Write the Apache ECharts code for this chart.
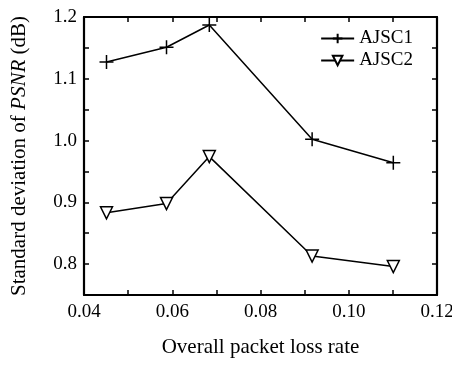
<!DOCTYPE html>
<html>
<head>
<meta charset="utf-8">
<script src="https://cdn.jsdelivr.net/npm/echarts@6/dist/echarts.min.js"></script>
<style>
  html, body { margin: 0; padding: 0; background: #fff; }
  #chart { width: 452px; height: 365px; }
</style>
</head>
<body>
<div id="chart"></div>
<script>
// values
const lossRate = [0.0451, 0.0587, 0.0684, 0.0917, 0.1101];
const ajsc1 = [1.127, 1.151, 1.187, 1.002, 0.964];
const ajsc2 = [0.883, 0.898, 0.974, 0.813, 0.796];

const FONT = 'Liberation Serif';
const plus = 'path://M0,5 L10,5 M5,0 L5,10';

const chart = echarts.init(document.getElementById('chart'), null, { renderer: 'canvas' });

const tenth = v => {
    const r = Math.round(v * 100);
    return r % 10 === 0 ? v.toFixed(1) : '';
};
const hundredth = v => {
    const r = Math.round(v * 100);
    return r % 2 === 0 ? v.toFixed(2) : '';
};

const baseAxis = {
    axisLine: { onZero: false, lineStyle: { color: '#000', width: 2.2 } },
    axisTick: { inside: true, length: 5, lineStyle: { color: '#000', width: 1.5 } },
    splitLine: { show: false },
};

chart.setOption({
    animation: false,
    grid: { left: 84, right: 15, top: 17, bottom: 70, outerBoundsMode: 'none' },
    legend: {
        right: 34, top: 24,
        orient: 'vertical',
        itemGap: 3,
        itemWidth: 33, itemHeight: 12,
        textStyle: { fontFamily: FONT, fontSize: 19, color: '#000' },
        data: ['AJSC1', 'AJSC2'],
    },
    xAxis: [
        {
            ...baseAxis,
            type: 'value', min: 0.04, max: 0.12, interval: 0.01,
            name: 'Overall packet loss rate',
            nameLocation: 'middle', nameGap: 42,
            nameTextStyle: { fontFamily: FONT, fontSize: 21, color: '#000' },
            axisLabel: {
                formatter: hundredth, margin: 8,
                fontFamily: FONT, fontSize: 19, color: '#000',
                showMinLabel: true, showMaxLabel: true,
            },
        },
        {
            ...baseAxis,
            type: 'value', position: 'top', min: 0.04, max: 0.12, interval: 0.01,
            axisLabel: { show: false },
        },
    ],
    yAxis: [
        {
            ...baseAxis,
            type: 'value', min: 0.75, max: 1.2, interval: 0.05,
            name: '{n|Standard deviation of }{i|PSNR}{n| (dB)}',
            nameLocation: 'middle', nameGap: 54,
            nameTextStyle: {
                rich: {
                    n: { fontFamily: FONT, fontSize: 21, color: '#000' },
                    i: { fontFamily: FONT, fontSize: 21, color: '#000', fontStyle: 'italic' },
                },
            },
            axisLabel: {
                formatter: tenth, margin: 7,
                fontFamily: FONT, fontSize: 19, color: '#000',
            },
        },
        {
            ...baseAxis,
            type: 'value', position: 'right', min: 0.75, max: 1.2, interval: 0.05,
            axisLabel: { show: false },
        },
    ],
    series: [
        {
            name: 'AJSC1',
            type: 'line',
            data: lossRate.map((x, i) => [x, ajsc1[i]]),
            symbol: plus, symbolSize: 14,
            lineStyle: { color: '#000', width: 1.5 },
            itemStyle: { color: '#000', borderColor: '#000', borderWidth: 1.5 },
        },
        {
            name: 'AJSC2',
            type: 'line',
            data: lossRate.map((x, i) => [x, ajsc2[i]]),
            symbol: 'triangle', symbolRotate: 180, symbolSize: 12,
            lineStyle: { color: '#000', width: 1.5 },
            itemStyle: { color: '#fff', borderColor: '#000', borderWidth: 1.5 },
        },
    ],
});
</script>
</body>
</html>
